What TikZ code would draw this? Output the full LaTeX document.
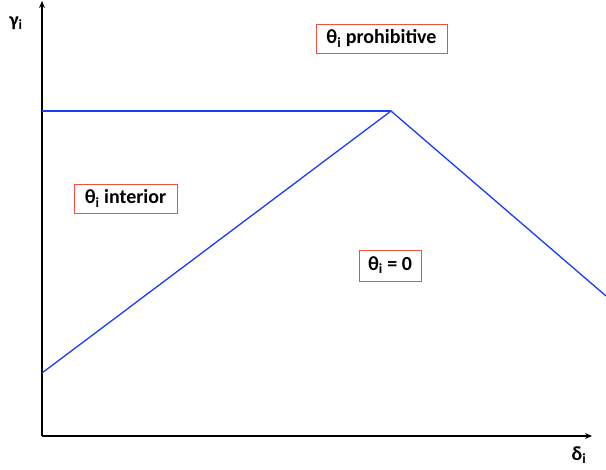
\documentclass[tikz,border=0pt]{standalone}
\usepackage{fontspec}
\setmainfont{Carlito}
\usetikzlibrary{arrows.meta}
\definecolor{lineblue}{RGB}{25,60,250}
\definecolor{boxred}{RGB}{240,80,60}
\tikzset{
  axis/.style={line width=1.3pt, -{Stealth[length=7pt,width=6pt]}},
  curve/.style={lineblue, line width=1.3pt},
  region/.style={draw=boxred, line width=0.9pt, fill=white, inner sep=0pt, minimum height=29pt, font=\fontsize{20}{22}\selectfont\bfseries},
  axlabel/.style={font=\fontsize{20}{22}\selectfont\bfseries, inner sep=0pt}
}
\begin{document}
\begin{tikzpicture}[x=1pt,y=-1pt]
\useasboundingbox (0,0) rectangle (606,470);
\coordinate (O) at (42,436);
\coordinate (ytop) at (42,1);
\coordinate (xend) at (592,436);
\coordinate (L) at (42,111);
\coordinate (B) at (42,373);
\coordinate (P) at (391,111);
\coordinate (R) at (606,296);
\draw[axis] (O) -- (ytop);
\draw[axis] (O) -- (xend);
\draw[curve] (L) -- (P);
\draw[curve] (B) -- (P) -- (R);
\node[axlabel] (g) at (16,23) {γ\textsubscript{i}};
\node[axlabel] (d) at (579,455) {δ\textsubscript{i}};
\node[region, minimum width=131pt] (pro) at (381.5,38.5) {θ\textsubscript{i} prohibitive};
\node[region, minimum width=103pt] (int) at (125.5,198.5) {θ\textsubscript{i} interior};
\node[region, minimum width=62pt, minimum height=31pt] (zero) at (390,265.5) {θ\textsubscript{i} = 0};
\end{tikzpicture}
\end{document}
